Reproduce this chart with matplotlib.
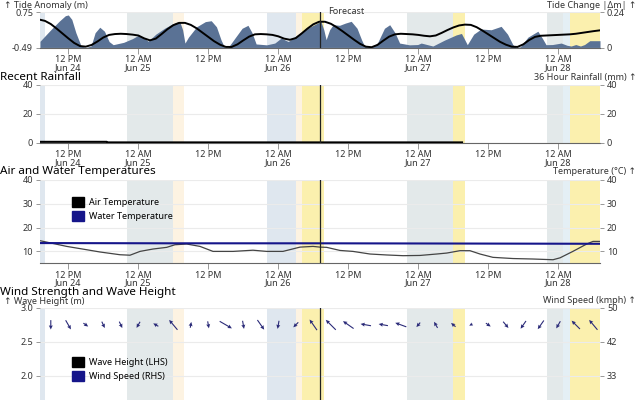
import matplotlib
matplotlib.use('Agg')
import matplotlib.pyplot as plt
import numpy as np
from matplotlib.patches import Patch

plt.rcParams['font.family'] = ['Noto Sans', 'DejaVu Sans']

# ---------------- data (time = hours since Jun 24 00:00) ----------------
x_start, x_end = 7.15, 103.15
forecast_hour = 55.15
tick_hours = [12, 24, 36, 48, 60, 72, 84, 96]
tick_labels = ['12 PM\nJun 24', '12 AM\nJun 25', '12 PM', '12 AM\nJun 26',
               '12 PM', '12 AM\nJun 27', '12 PM', '12 AM\nJun 28']

band_start = [7.15, 22.0, 30.0, 46.0, 51.05, 52.0, 70.0, 78.0, 94.0, 96.75, 98.0]
band_end = [8.0, 29.9, 31.9, 51.05, 52.0, 55.85, 78.0, 80.0, 96.75, 98.0, 103.15]
band_kind = ['blue', 'night', 'cream', 'blue', 'cream', 'sun', 'night', 'sun',
             'night', 'pale', 'sun']

tide_hours = [7.15, 8, 9, 10, 11, 12, 13, 14, 15, 16, 17, 18, 19, 20, 21, 22, 23, 24,
              25, 26, 27, 28, 29, 30, 31, 32, 33, 34, 35, 36, 37, 38, 39, 40, 41, 42,
              43, 44, 45, 46, 47, 48, 49, 50, 51, 52, 53, 54, 55, 56, 57, 58, 59, 60,
              61, 62, 63, 64, 65, 66, 67, 68, 69, 70, 71, 72, 73, 74, 75, 76, 77, 78,
              79, 80, 81, 82, 83, 84, 85, 86, 87, 88, 89, 90, 91, 92, 93, 94, 95, 96,
              97, 98, 99, 100, 101, 102, 103.15]
tide_anomaly = [0.48, 0.44, 0.33, 0.17, 0.0, -0.17, -0.33, -0.44, -0.46, -0.40, -0.28,
                -0.14, -0.05, -0.02, -0.01, -0.02, -0.04, -0.07, -0.17, -0.24, -0.18,
                -0.02, 0.15, 0.29, 0.37, 0.37, 0.30, 0.18, 0.03, -0.12, -0.27, -0.39,
                -0.47, -0.47, -0.38, -0.24, -0.11, -0.03, -0.02, -0.03, -0.05, -0.10,
                -0.18, -0.22, -0.16, 0.0, 0.17, 0.32, 0.41, 0.41, 0.34, 0.22, 0.08,
                -0.07, -0.22, -0.36, -0.46, -0.48, -0.40, -0.25, -0.11, -0.03, -0.01,
                -0.02, -0.03, -0.05, -0.08, -0.10, -0.07, 0.02, 0.12, 0.21, 0.28, 0.31,
                0.30, 0.22, 0.10, -0.03, -0.16, -0.29, -0.39, -0.46, -0.47, -0.38,
                -0.23, -0.12, -0.08, -0.07, -0.06, -0.05, -0.04, -0.03, -0.01, 0.02,
                0.05, 0.08, 0.11]

change_hours = [7.15, 9.0, 10.5, 11.5, 12.0, 12.6, 13.3, 14.2, 15.0, 15.9, 16.6, 17.4,
                18.2, 19.0, 19.7, 21.5, 23.0, 24.0, 24.8, 25.7, 27.0, 28.5, 29.6, 30.5,
                31.1, 31.6, 32.0, 32.6, 34.0, 35.5, 36.5, 37.4, 38.2, 38.8, 39.4, 40.5,
                41.8, 42.8, 43.5, 44.2, 46.0, 47.4, 48.5, 49.7, 51.5, 53.5, 55.3, 55.8,
                56.2, 56.8, 57.4, 58.5, 59.5, 60.5, 61.5, 62.3, 62.8, 64.0, 65.0, 66.2,
                67.1, 68.0, 68.8, 70.5, 71.9, 72.5, 73.5, 74.5, 76.5, 78.5, 79.4, 80.0,
                80.4, 81.5, 82.75, 84.5, 86.2, 87.3, 88.2, 88.75, 89.5, 90.8, 92.5, 93.3,
                93.9, 95.0, 96.5, 97.5, 98.2, 99.0, 99.8, 100.5, 101.4, 103.15]
tide_change = [0.042, 0.12, 0.18, 0.215, 0.22, 0.19, 0.10, 0.01, 0.0, 0.01, 0.10, 0.137,
               0.11, 0.04, 0.019, 0.035, 0.06, 0.082, 0.07, 0.042, 0.09, 0.13, 0.154,
               0.17, 0.175, 0.12, 0.03, 0.07, 0.14, 0.175, 0.181, 0.14, 0.05, 0.0, 0.0,
               0.06, 0.13, 0.15, 0.10, 0.024, 0.018, 0.03, 0.064, 0.04, 0.09, 0.14,
               0.177, 0.12, 0.053, 0.12, 0.154, 0.15, 0.165, 0.177, 0.13, 0.05, 0.008,
               0.0, 0.03, 0.13, 0.154, 0.10, 0.03, 0.018, 0.02, 0.03, 0.02, 0.01, 0.05,
               0.085, 0.095, 0.05, 0.019, 0.09, 0.125, 0.12, 0.143, 0.09, 0.02, 0.0,
               0.005, 0.07, 0.11, 0.06, 0.019, 0.02, 0.03, 0.015, 0.01, 0.02, 0.01,
               0.02, 0.046, 0.046]

rain_hours = [7.15, 18.6, 18.7, 79.5]
rain_mm = [0.6, 0.6, 0.2, 0.2]

air_hours = [7.15, 11.73, 15.16, 17.44, 20.86, 22.58, 24.29, 26.52, 28.87, 30.29, 32.3,
             34.58, 36.81, 40.24, 43.66, 46.0, 48.8, 51.72, 53.95, 55.15, 56.3, 58.58,
             60.8, 63.72, 66.58, 69.38, 72.29, 75.15, 76.87, 79.15, 80.86, 82.58, 84.8,
             88.24, 91.67, 95.1, 96.3, 98.5, 100.87, 101.95, 103.15]
air_temp = [14.5, 12.1, 10.7, 9.75, 8.6, 8.4, 10.0, 11.0, 11.7, 12.8, 13.1, 12.1, 10.0,
            10.0, 10.5, 10.0, 10.0, 11.8, 12.1, 11.8, 11.7, 10.4, 10.0, 8.9, 8.5, 8.2,
            8.3, 8.9, 9.3, 10.3, 10.3, 8.9, 7.5, 7.0, 6.8, 6.5, 7.3, 10.0, 13.1, 14.2,
            14.2]
water_hours = [7.15, 30.0, 55.15, 80.0, 103.15]
water_temp = [13.5, 13.4, 13.4, 13.3, 13.2]

wind_hours = [9, 12, 15, 18, 21, 24, 27, 30, 33, 36, 39, 42, 45, 48, 51, 54,
              57, 60, 63, 66, 69, 72, 75, 78, 81, 84, 87, 90, 93, 96, 99, 102]
wind_speed = [16, 18, 10, 12, 12, 12, 10, 22, 10, 12, 24, 14, 20, 14, 12, 22,
              24, 22, 18, 16, 20, 10, 12, 10, 6, 10, 14, 16, 18, 14, 20, 22]
wind_from = [0, 330, 305, 335, 335, 30, 120, 140, 190, 350, 300, 350, 325, 10, 45, 145,
             135, 125, 100, 100, 110, 40, 150, 130, 60, 305, 320, 35, 35, 30, 135, 140]

wave_ticks = [2.0, 2.5, 3.0]

# ---------------- style ----------------
band_colors = {'blue': '#dfe7ef', 'night': '#e3e9ea', 'cream': '#fdf3e2',
               'sun': '#fbf0ae', 'pale': '#e4eff5'}
tide_fill = '#5a7295'
navy = '#15158a'
tick_col = '#333333'
title_size = 8.4

fig = plt.figure(figsize=(6.4, 4.0), dpi=100)
fig.patch.set_facecolor('white')
H = 400.0
L, W = 40 / 640, 560 / 640


def add_axes(top_px, bottom_px):
    return fig.add_axes([L, (H - bottom_px) / H, W, (bottom_px - top_px) / H])


def style(ax, show_x=True):
    for s in ['left', 'right', 'top']:
        ax.spines[s].set_visible(False)
    ax.spines['bottom'].set_color('#666666')
    ax.spines['bottom'].set_linewidth(0.8)
    ax.set_xlim(x_start, x_end)
    ax.set_xticks(tick_hours)
    ax.set_xticklabels(tick_labels)
    ax.tick_params(axis='both', colors='#888888', labelcolor=tick_col, labelsize=6.5,
                   length=3, width=0.6, pad=2)
    ax.tick_params(axis='x', length=4, pad=1.2, labelbottom=show_x)
    for lbl in ax.get_xticklabels():
        lbl.set_linespacing(0.86)
    ax.grid(axis='y', color='#ebebeb', lw=0.8)
    ax.set_axisbelow(True)


def right_style(axr):
    for s in ['left', 'right', 'top', 'bottom']:
        axr.spines[s].set_visible(False)
    axr.tick_params(axis='y', colors='#888888', labelcolor=tick_col, labelsize=6.5,
                    length=3, width=0.6, pad=2)


def draw_bands(ax):
    for s, e, k in zip(band_start, band_end, band_kind):
        ax.axvspan(s, e, color=band_colors[k], lw=0, zorder=0)


# ---- panel 1: tide ----
ax1 = add_axes(12, 47.5)
ax1r = ax1.twinx()
style(ax1)
right_style(ax1r)
draw_bands(ax1r)
ax1r.fill_between(change_hours, 0, tide_change, color=tide_fill, lw=0, zorder=2)
ax1r.set_ylim(0, 0.24)
ax1r.set_yticks([0, 0.24])
ax1r.set_yticklabels(['0', '0.24'])
ax1.set_zorder(ax1r.get_zorder() + 1)
ax1.patch.set_visible(False)
ax1.plot(tide_hours, tide_anomaly, color='black', lw=1.4, zorder=3)
ax1.set_ylim(-0.49, 0.75)
ax1.set_yticks([-0.49, 0.75])
ax1.set_yticklabels(['-0.49', '0.75'])
ax1.axvline(forecast_hour, color='#222222', lw=0.9, zorder=4)

# ---- panel 2: rainfall ----
ax2 = add_axes(85, 142.7)
style(ax2)
draw_bands(ax2)
ax2.plot(rain_hours, rain_mm, color='black', lw=1.5, zorder=3)
ax2.set_ylim(0, 40)
ax2.set_yticks([0, 20, 40])
ax2r = ax2.twinx()
right_style(ax2r)
ax2r.set_ylim(0, 40)
ax2r.set_yticks([0, 20, 40])
ax2.axvline(forecast_hour, color='#222222', lw=0.9, zorder=4)

# ---- panel 3: temperatures ----
ax3 = add_axes(180, 263.3)
style(ax3)
draw_bands(ax3)
ax3.plot(air_hours, air_temp, color='#444444', lw=0.9, zorder=3)
ax3.plot(water_hours, water_temp, color=navy, lw=1.5, zorder=3)
ax3.set_ylim(5, 40)
ax3.set_yticks([10, 20, 30, 40])
ax3r = ax3.twinx()
right_style(ax3r)
ax3r.set_ylim(5, 40)
ax3r.set_yticks([10, 20, 30, 40])
ax3.axvline(forecast_hour, color='#222222', lw=0.9, zorder=4)
ax3.legend(handles=[Patch(color='black', label='Air Temperature'),
                    Patch(color=navy, label='Water Temperature')],
           loc='upper left', bbox_to_anchor=((72 - 40) / 560, 1 - (196.7 - 180) / 83.3),
           frameon=False, fontsize=6.5, handlelength=1.3, handleheight=1.3,
           handletextpad=0.6, labelspacing=0.45, borderpad=0, borderaxespad=0)

# ---- panel 4: wind and waves ----
ax4 = add_axes(307.7, 511.7)
style(ax4, show_x=False)
draw_bands(ax4)
ax4.set_ylim(0, 3.0)
ax4.set_yticks(wave_ticks)
ax4.set_yticklabels(['%.1f' % t for t in wave_ticks])
ax4r = ax4.twinx()
right_style(ax4r)
ax4r.set_ylim(0, 50)
rt = [t * 50 / 3.0 for t in wave_ticks]
ax4r.set_yticks(rt)
ax4r.set_yticklabels(['%d' % round(t) for t in rt])
ax4.axvline(forecast_hour, color='#222222', lw=0.9, zorder=4)
to_rad = np.radians(np.array(wind_from) + 180.0)
spd = np.array(wind_speed, dtype=float)
u = spd * np.sin(to_rad)
v = spd * np.cos(to_rad)
row = np.full(len(wind_hours), 45.8)
ax4r.quiver(wind_hours, row, u, v, angles='uv', scale_units='dots', scale=1.7,
            pivot='middle', color='#2a2a78', units='dots', width=1.1,
            headwidth=3.6, headlength=3.8, headaxislength=3.4, zorder=5)
ax4.legend(handles=[Patch(color='black', label='Wave Height (LHS)'),
                    Patch(color=navy, label='Wind Speed (RHS)')],
           loc='upper left', bbox_to_anchor=((72 - 40) / 560, 1 - (356.7 - 307.7) / 204),
           frameon=False, fontsize=6.5, handlelength=1.3, handleheight=1.3,
           handletextpad=0.6, labelspacing=0.45, borderpad=0, borderaxespad=0)


# ---------------- titles ----------------
def ftext(x, y, s, **kw):
    fig.text(x / 640, 1 - y / H, s, va='center', **kw)


ftext(4, 5, '↑ Tide Anomaly (m)', fontsize=6.5, color=tick_col)
ftext(636, 5, 'Tide Change |Δm| ↑', fontsize=6.5, color=tick_col, ha='right')
ftext(328, 11.7, 'Forecast', fontsize=6.5, color=tick_col)
ftext(0, 77, 'Recent Rainfall', fontsize=title_size, fontweight='bold', color='black')
ftext(636, 77.5, '36 Hour Rainfall (mm) ↑', fontsize=6.5, color=tick_col, ha='right')
ftext(0, 172, 'Air and Water Temperatures', fontsize=title_size, fontweight='bold',
      color='black')
ftext(636, 172, 'Temperature (°C) ↑', fontsize=6.5, color=tick_col, ha='right')
ftext(0, 292, 'Wind Strength and Wave Height', fontsize=title_size, fontweight='bold',
      color='black')
ftext(4, 301, '↑ Wave Height (m)', fontsize=6.5, color=tick_col)
ftext(636, 300.5, 'Wind Speed (kmph) ↑', fontsize=6.5, color=tick_col, ha='right')

fig.savefig('out.png', dpi=100, facecolor='white')
